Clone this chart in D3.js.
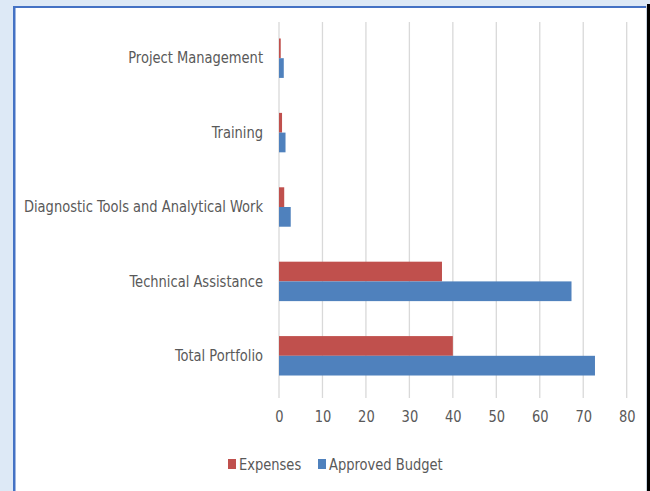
<!DOCTYPE html>
<html><head><meta charset="utf-8">
<script src="https://cdn.jsdelivr.net/npm/d3@7"></script>
<style>
html,body{margin:0;padding:0;background:#dde9f6;}
svg{display:block;}
</style></head>
<body>
<svg id="c" width="650" height="491"></svg>
<script>
const categories = ["Project Management","Training","Diagnostic Tools and Analytical Work","Technical Assistance","Total Portfolio"];
const expenses = [0.4, 0.7, 1.2, 37.5, 40.0];
const approvedBudget = [1.1, 1.5, 2.7, 67.3, 72.7];
const seriesNames = ["Expenses","Approved Budget"];
const seriesColors = ["#c0504d","#4f81bd"];
const xTicks = [0,10,20,30,40,50,60,70,80];

const svg = d3.select("#c");
const font = "'Liberation Sans Narrow','DejaVu Sans Condensed',sans-serif";
const fs = 16.5;
const sx = 0.88;
const textColor = "#595959";

// frame
svg.append("rect").attr("x",0).attr("y",0).attr("width",650).attr("height",491).attr("fill","#dde9f6");
svg.append("rect").attr("x",15).attr("y",8).attr("width",632).attr("height",491).attr("fill","#ffffff");
svg.append("rect").attr("x",13).attr("y",6).attr("width",634).attr("height",2).attr("fill","#4472c4");
svg.append("rect").attr("x",13).attr("y",6).attr("width",2.5).attr("height",485).attr("fill","#4472c4");
svg.append("rect").attr("x",646).attr("y",6).attr("width",1).attr("height",485).attr("fill","#c8d3e0");
svg.append("rect").attr("x",647).attr("y",4).attr("width",3).attr("height",487).attr("fill","#000000");

const x = d3.scaleLinear().domain([0,80]).range([279,626.7]);
const y = d3.scaleBand().domain(categories).range([21,393]).paddingInner(0.47).paddingOuter(0.235);
const ySub = d3.scaleBand().domain(seriesNames).range([0,y.bandwidth()]);

// gridlines
svg.append("g").selectAll("line").data(xTicks).join("line")
  .attr("x1",d=>x(d)).attr("x2",d=>x(d)).attr("y1",22).attr("y2",398)
  .attr("stroke","#d9d9d9").attr("stroke-width",1.3);

// bars
const data = categories.map((c,i)=>({c, vals:[expenses[i],approvedBudget[i]]}));
const g = svg.append("g");
data.forEach(d=>{
  d.vals.forEach((v,j)=>{
    g.append("rect")
      .attr("x",x(0))
      .attr("y",y(d.c)+ySub(seriesNames[j]))
      .attr("width",x(v)-x(0))
      .attr("height",ySub.bandwidth())
      .attr("fill",seriesColors[j]);
  });
});

// x axis labels
const xAxis = d3.axisBottom(x).tickValues(xTicks).tickSize(0).tickPadding(0);
const xa = svg.append("g").attr("transform","translate(0,410)").call(xAxis);
xa.select(".domain").remove();
xa.selectAll("text").attr("font-family",font).attr("font-size",fs).attr("fill",textColor)
  .attr("dy","0.71em").attr("transform",`scale(${sx},1)`);

// y axis labels
const yAxis = d3.axisLeft(y).tickSize(0).tickPadding(16);
const ya = svg.append("g").attr("transform",`translate(${x(0)},0)`).call(yAxis);
ya.select(".domain").remove();
ya.selectAll("text").attr("font-family",font).attr("font-size",fs).attr("fill",textColor)
  .attr("x",-16/sx).attr("transform",`scale(${sx},1)`);

// legend
const legend = svg.append("g");
const legItems = [{name:seriesNames[0],color:seriesColors[0],x:228},{name:seriesNames[1],color:seriesColors[1],x:318}];
legItems.forEach(it=>{
  legend.append("rect").attr("x",it.x).attr("y",459).attr("width",8).attr("height",10).attr("fill",it.color);
  legend.append("g").attr("transform",`translate(${it.x+11},464)`)
    .append("text").attr("dy","0.35em").attr("transform",`scale(${sx},1)`)
    .attr("font-family",font).attr("font-size",fs).attr("fill",textColor).text(it.name);
});
</script>
</body></html>
